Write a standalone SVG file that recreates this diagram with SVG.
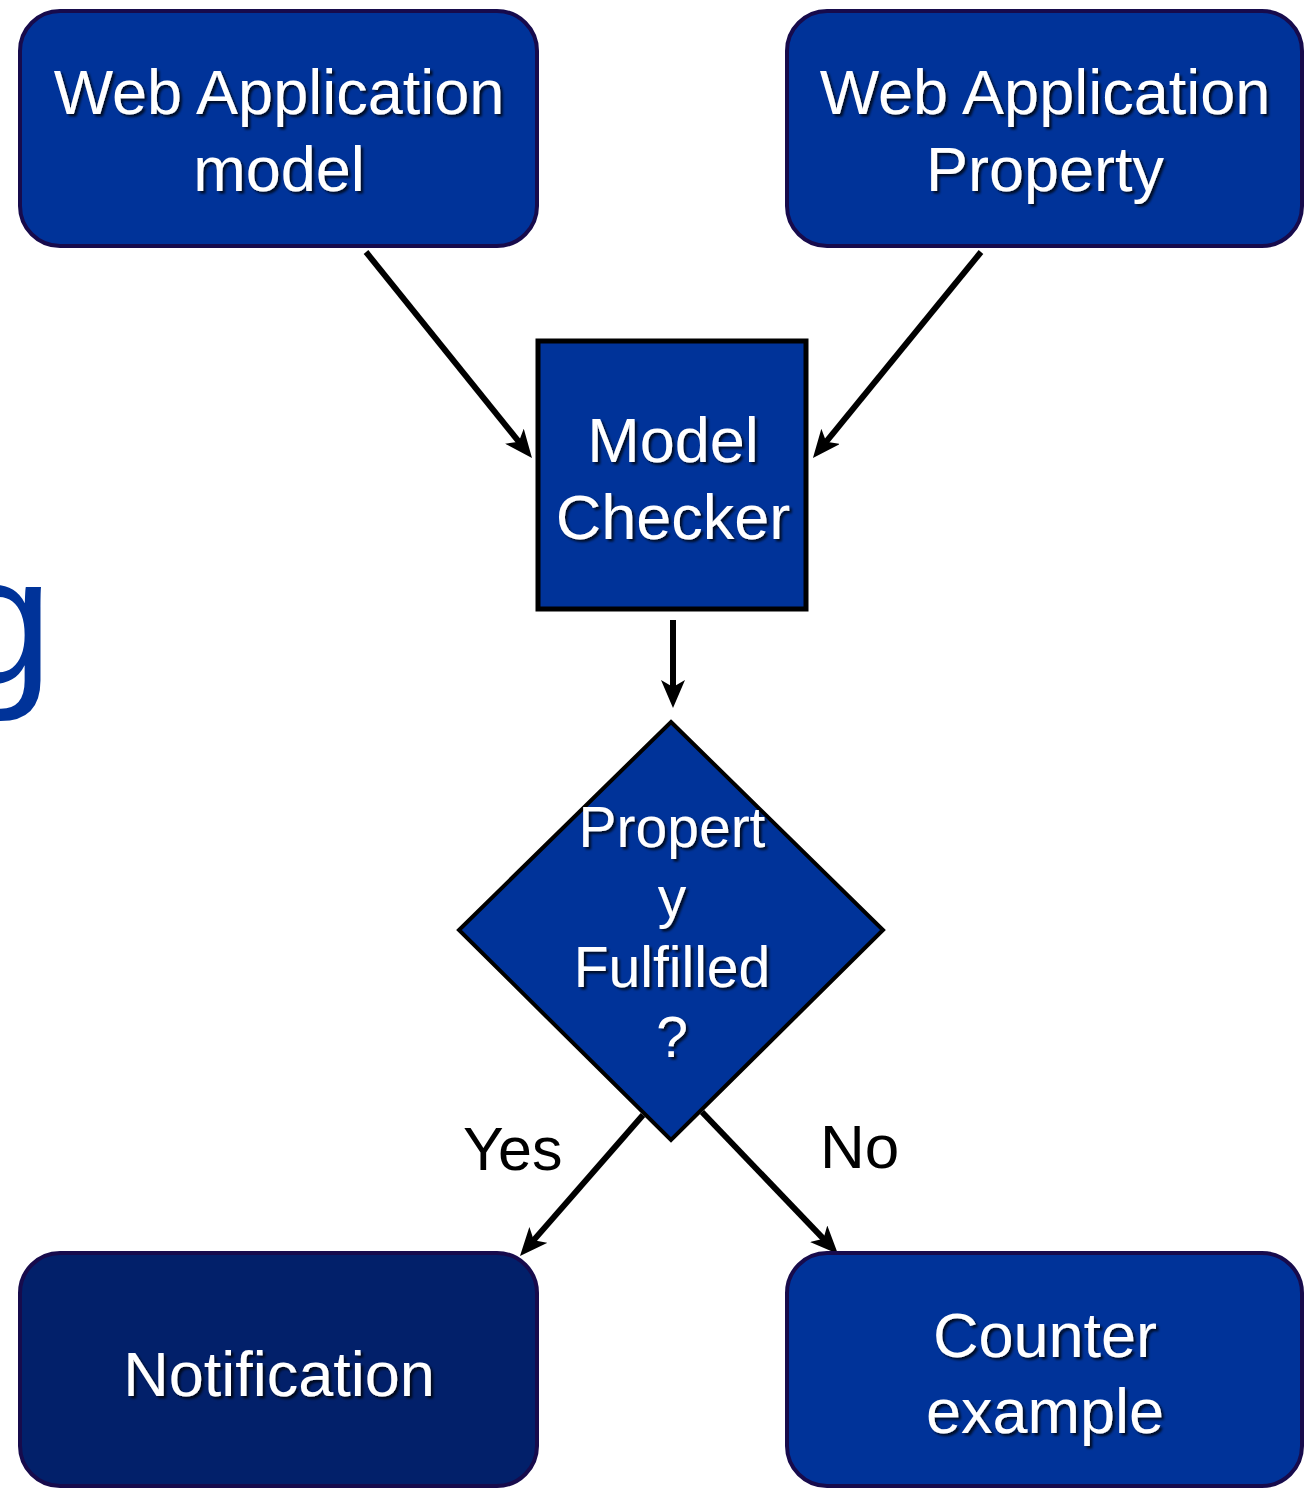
<svg xmlns="http://www.w3.org/2000/svg" width="1309" height="1488" viewBox="0 0 1309 1488">
  <defs>
    <style>
      .box { fill: #003399; stroke: #170b4c; stroke-width: 4; }
      .box-dark { fill: #02206a; stroke: #170b4c; stroke-width: 4; }
      .square { fill: #003399; stroke: #000000; stroke-width: 5; }
      .decision { fill: #003399; stroke: #000000; stroke-width: 4; stroke-linejoin: miter; }
      .label { font-family: "Liberation Sans", Arial, sans-serif; fill: #ffffff; text-anchor: middle; filter: url(#shadow); }
      .edge-label { font-family: "Liberation Sans", Arial, sans-serif; fill: #000000; }
      .edge { fill: none; stroke: #000000; stroke-width: 6; marker-end: url(#stealth); }
      .backdrop { font-family: "Liberation Sans", Arial, sans-serif; fill: #003399; }
    </style>
    <filter id="shadow" x="-10%" y="-20%" width="130%" height="150%">
      <feDropShadow dx="2.5" dy="2.5" stdDeviation="1" flood-color="#000000" flood-opacity="0.75"/>
    </filter>
    <marker id="stealth" markerUnits="userSpaceOnUse" viewBox="0 0 28 24" markerWidth="28" markerHeight="24" refX="14" refY="12" orient="auto">
      <path d="M0,0 L28,12 L0,24 L7,12 z" fill="#000000"/>
    </marker>
  </defs>

  <!-- partially visible title letter behind the flow chart -->
  <text class="backdrop" x="-48" y="683" font-size="181">g</text>

  <!-- connectors -->
  <g id="connectors">
    <path class="edge" d="M366,252 L523.2,447.1"/>
    <path class="edge" d="M981,252 L821.8,447.2"/>
    <path class="edge" d="M673,620 L673,694"/>
    <path class="edge" d="M643,1115 L529.2,1245.4"/>
    <path class="edge" d="M702,1112 L828.3,1243.9"/>
    <text class="edge-label" x="463" y="1170" font-size="61">Yes</text>
    <text class="edge-label" x="820" y="1168" font-size="62">No</text>
  </g>

  <g id="web-app-model">
    <rect class="box" x="20" y="11" width="517" height="235" rx="40" ry="40"/>
    <text class="label" font-size="63"><tspan x="279" y="114">Web Application</tspan><tspan x="279" y="191">model</tspan></text>
  </g>

  <g id="web-app-property">
    <rect class="box" x="787" y="11" width="515" height="235" rx="40" ry="40"/>
    <text class="label" font-size="63"><tspan x="1045" y="114">Web Application</tspan><tspan x="1045" y="191">Property</tspan></text>
  </g>

  <g id="model-checker">
    <rect class="square" x="538" y="341" width="268" height="268"/>
    <text class="label" font-size="63"><tspan x="673" y="462">Model</tspan><tspan x="673" y="539">Checker</tspan></text>
  </g>

  <g id="property-fulfilled">
    <polygon class="decision" points="671,722 883,930 671,1140 459,930"/>
    <text class="label" font-size="57"><tspan x="672" y="847">Propert</tspan><tspan x="672" y="917">y</tspan><tspan x="672" y="987">Fulfilled</tspan><tspan x="672" y="1057">?</tspan></text>
  </g>

  <g id="notification">
    <rect class="box-dark" x="20" y="1253" width="517" height="233" rx="40" ry="40"/>
    <text class="label" font-size="63" x="279" y="1396">Notification</text>
  </g>

  <g id="counter-example">
    <rect class="box" x="787" y="1253" width="515" height="233" rx="40" ry="40"/>
    <text class="label" font-size="63"><tspan x="1045" y="1357">Counter</tspan><tspan x="1045" y="1433">example</tspan></text>
  </g>
</svg>
